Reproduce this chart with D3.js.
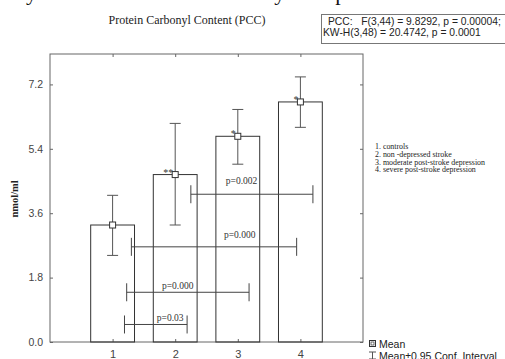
<!DOCTYPE html>
<html>
<head>
<meta charset="utf-8">
<script src="https://cdn.jsdelivr.net/npm/d3@7"></script>
<style>
  body { margin: 0; background: #fff; }
  svg { display: block; }
</style>
</head>
<body>
<svg id="chart" width="505" height="359"></svg>
<script>
const groups = [1, 2, 3, 4];
const means = [3.27, 4.68, 5.75, 6.71];
const ciLow = [2.42, 3.27, 4.97, 6.00];
const ciHigh = [4.10, 6.11, 6.50, 7.41];
const stars = ['', '**', '*', '*'];
const yTicks = [0, 1.8, 3.6, 5.4, 7.2];

// pairwise comparison brackets (x span in group units, level in nmol/ml)
const cmpFrom = [2.25, 1.30, 1.225, 1.19];
const cmpTo = [4.20, 3.94, 3.18, 2.19];
const cmpLevel = [4.13, 2.66, 1.39, 0.49];
const cmpLabel = ['p=0.002', 'p=0.000', 'p=0.000', 'p=0.03'];
const cmpLabelX = [3.06, 3.03, 2.04, 1.92];
const cmpLabelY = [4.41, 2.90, 1.48, 0.59];

const groupNames = ['1. controls', '2. non -depressed stroke',
  '3. moderate post-stroke depression', '4. severe post-stroke depression'];
const statLines = ['PCC:   F(3,44) = 9.8292, p = 0.00004;', 'KW-H(3,48) = 20.4742, p = 0.0001'];

const svg = d3.select('#chart');
const serif = '"Liberation Serif", "DejaVu Serif", serif';
const sans = '"Liberation Sans", Arial, sans-serif';
const axisColor = '#666';
const ink = '#333';

const x = d3.scaleLinear().domain([0, 5]).range([50, 363]);
const y = d3.scaleLinear().domain([0, 8.05]).range([342, 54]);

// cut-off line of body text at the very top
svg.append('text')
  .attr('x', 20).attr('y', -0.5)
  .attr('font-family', serif).attr('font-size', 22)
  .attr('fill', '#111')
  .text('ly associated with the severity of depression and the');

// title
svg.append('text')
  .attr('x', 187).attr('y', 24)
  .attr('text-anchor', 'middle')
  .attr('font-family', serif).attr('font-size', 12)
  .attr('fill', '#222')
  .text('Protein Carbonyl Content (PCC)');

// stats box
svg.append('rect')
  .attr('x', 321.5).attr('y', 14.5).attr('width', 200).attr('height', 29)
  .attr('fill', '#fff').attr('stroke', '#777');
svg.selectAll('.stat').data(statLines).enter()
  .append('text')
  .attr('class', 'stat')
  .attr('x', (d, i) => i === 0 ? 328 : 323)
  .attr('y', (d, i) => 25 + i * 11)
  .style('white-space', 'pre')
  .attr('font-family', sans).attr('font-size', 10.3)
  .attr('fill', '#222')
  .text(d => d);

// frame
svg.append('rect')
  .attr('x', x(0)).attr('y', y.range()[1])
  .attr('width', x(5) - x(0)).attr('height', y(0) - y.range()[1])
  .attr('fill', 'none').attr('stroke', axisColor);

const axisStyle = g => {
  g.select('.domain').remove();
  g.selectAll('line').attr('stroke', axisColor);
  g.selectAll('text').attr('fill', '#444').attr('font-family', sans).attr('font-size', 10.5);
};

svg.append('g')
  .attr('transform', `translate(${x(0)},0)`)
  .call(d3.axisLeft(y).tickValues(yTicks).tickFormat(d3.format('.1f')).tickSize(-3).tickPadding(7))
  .call(axisStyle);

svg.append('g')
  .attr('transform', `translate(${x(5)},0)`)
  .call(d3.axisRight(y).tickValues(yTicks).tickFormat('').tickSize(-3))
  .call(axisStyle);

svg.append('g')
  .attr('transform', `translate(0,${y(0)})`)
  .call(d3.axisBottom(x).tickValues(groups).tickFormat(d3.format('d')).tickSize(-3).tickPadding(8))
  .call(axisStyle)
  .selectAll('text').attr('font-size', 11);

svg.append('g')
  .attr('transform', `translate(0,${y.range()[1]})`)
  .call(d3.axisTop(x).tickValues(groups).tickFormat('').tickSize(-3))
  .call(axisStyle);

// y label
svg.append('text')
  .attr('transform', `translate(18,${y(4.0)}) rotate(-90)`)
  .attr('text-anchor', 'middle')
  .attr('font-family', serif).attr('font-size', 10.5).attr('font-weight', 'bold')
  .attr('fill', '#222')
  .text('nmol/ml');

const barW = 0.7;
const data = groups.map((g, i) => ({ g, mean: means[i], lo: ciLow[i], hi: ciHigh[i], star: stars[i] }));

// bars
svg.append('g').selectAll('rect').data(data).enter()
  .append('rect')
  .attr('x', d => x(d.g - barW / 2))
  .attr('y', d => y(d.mean))
  .attr('width', x(barW) - x(0))
  .attr('height', d => y(0) - y(d.mean))
  .attr('fill', 'none').attr('stroke', ink);

// comparison brackets
const cmp = cmpLabel.map((label, i) => ({
  from: cmpFrom[i], to: cmpTo[i], level: cmpLevel[i], label, lx: cmpLabelX[i], ly: cmpLabelY[i]
}));
const br = svg.append('g').attr('stroke', '#444').attr('fill', 'none');
cmp.forEach(c => {
  const yy = y(c.level);
  br.append('path')
    .attr('d', `M${x(c.from)},${yy}H${x(c.to)}M${x(c.from)},${yy - 9}V${yy + 9}M${x(c.to)},${yy - 9}V${yy + 9}`);
});
svg.append('g').selectAll('text').data(cmp).enter()
  .append('text')
  .attr('x', d => x(d.lx)).attr('y', d => y(d.ly))
  .attr('text-anchor', 'middle')
  .attr('font-family', serif).attr('font-size', 9.5)
  .attr('fill', '#333')
  .text(d => d.label);

// error bars
const capW = 5.5;
const eb = svg.append('g').attr('stroke', '#555').attr('fill', 'none');
data.forEach(d => {
  const cx = x(d.g);
  eb.append('path')
    .attr('d', `M${cx},${y(d.lo)}V${y(d.hi)}M${cx - capW},${y(d.lo)}H${cx + capW}M${cx - capW},${y(d.hi)}H${cx + capW}`);
});

// mean markers
svg.append('g').selectAll('rect').data(data).enter()
  .append('rect')
  .attr('x', d => x(d.g) - 3).attr('y', d => y(d.mean) - 3)
  .attr('width', 6).attr('height', 6)
  .attr('fill', '#fff').attr('stroke', ink);

// significance stars
svg.append('g').selectAll('text').data(data.filter(d => d.star)).enter()
  .append('text')
  .attr('x', d => x(d.g) - 2).attr('y', d => y(d.mean) + 1)
  .attr('text-anchor', 'end')
  .attr('font-family', serif).attr('font-size', 10)
  .attr('fill', '#333')
  .text(d => d.star);

// group legend
svg.append('g').selectAll('text').data(groupNames).enter()
  .append('text')
  .attr('x', 375).attr('y', (d, i) => 149 + i * 7.8)
  .attr('font-family', serif).attr('font-size', 7.9)
  .attr('fill', '#222')
  .text(d => d);

// marker legend
svg.append('rect')
  .attr('x', 369.5).attr('y', 340.5).attr('width', 6).attr('height', 6)
  .attr('fill', '#fff').attr('stroke', ink);
svg.append('rect')
  .attr('x', 371).attr('y', 342).attr('width', 3).attr('height', 3)
  .attr('fill', 'none').attr('stroke', ink).attr('stroke-width', 0.7);
svg.append('path')
  .attr('d', 'M369,352H376M372.5,352V359M369,359H376')
  .attr('stroke', '#555').attr('fill', 'none');
svg.append('text')
  .attr('x', 379).attr('y', 348)
  .attr('font-family', sans).attr('font-size', 10.5).attr('fill', '#222')
  .text('Mean');
svg.append('text')
  .attr('x', 379).attr('y', 360)
  .attr('font-family', sans).attr('font-size', 10.5).attr('fill', '#222')
  .text('Mean±0.95 Conf. Interval');
</script>
</body>
</html>
